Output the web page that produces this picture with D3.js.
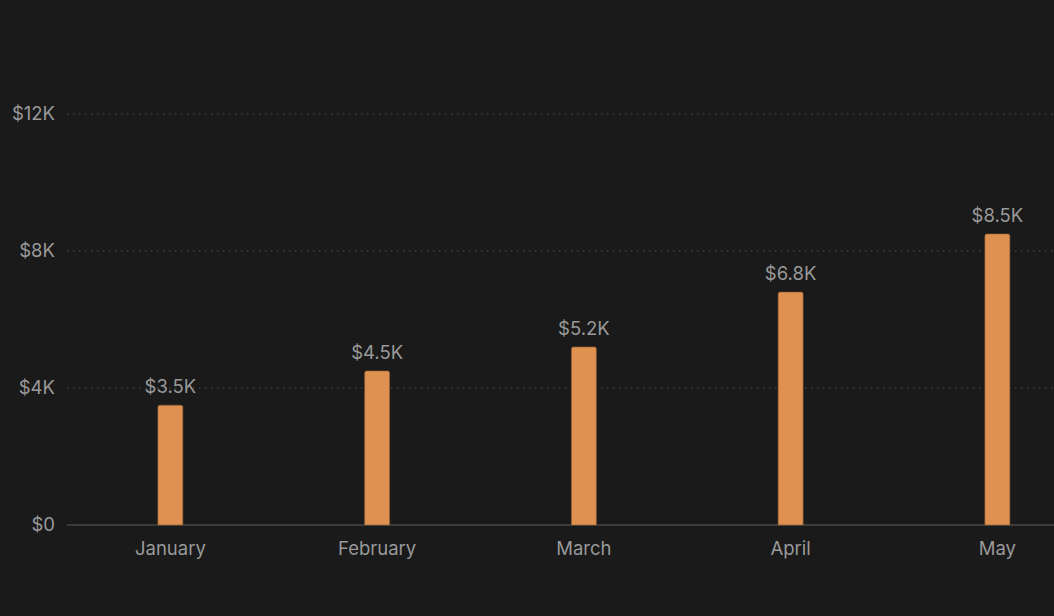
<!DOCTYPE html>
<html><head><meta charset="utf-8">
<script src="https://cdn.jsdelivr.net/npm/d3@7"></script>
<style>
html,body{margin:0;padding:0;background:#1a1a1a;overflow:hidden;}
svg{display:block;}
</style></head>
<body>
<svg id="chart" width="1054" height="616"></svg>
<script>
const months = ["January","February","March","April","May"];
const revenue = [3500, 4500, 5200, 6800, 8500];
const valueLabels = ["$3.5K","$4.5K","$5.2K","$6.8K","$8.5K"];
const yTicks = [0, 4000, 8000, 12000];
const yTickLabels = ["$0","$4K","$8K","$12K"];

(function(){
const svg = d3.select("#chart");
const W = 1054;
const mLeft = 67, mBottom = 525, mTop = 114;
const bandStep = 206.75;
const x = d3.scaleBand().domain(months).range([mLeft, mLeft + bandStep * months.length]).paddingInner(0).paddingOuter(0);
const y = d3.scaleLinear().domain([0, 12000]).range([mBottom, mTop]);

const font = "Inter, 'Liberation Sans', Arial, sans-serif";
const textColor = "#999999";
const fs = 18.5;

// gridlines
svg.append("g").selectAll("line").data(yTicks.filter(d => d > 0)).join("line")
  .attr("x1", mLeft).attr("x2", W)
  .attr("y1", d => y(d)).attr("y2", d => y(d))
  .attr("stroke", "#505050").attr("stroke-width", 1.2).attr("stroke-dasharray", "1.5,4.5");

// y axis
const yAxis = d3.axisLeft(y).tickValues(yTicks).tickFormat((d,i) => yTickLabels[i]).tickSize(0).tickPadding(12);
const gy = svg.append("g").attr("transform", `translate(${mLeft},0)`).call(yAxis);
gy.select(".domain").remove();
gy.selectAll("text").attr("fill", textColor).attr("font-size", fs).attr("font-family", font);

// x axis
const xAxis = d3.axisBottom(x).tickSize(0).tickPadding(17);
const gx = svg.append("g").attr("transform", `translate(0,${mBottom})`).call(xAxis);
gx.select(".domain").attr("stroke", "#474747").attr("stroke-width", 1.5).attr("d", `M${mLeft},0H${W}`);
gx.selectAll("text").attr("fill", textColor).attr("font-size", fs).attr("font-family", font);

// bars
const bw = 25;
svg.append("g").selectAll("path").data(months).join("path")
  .attr("d", (m, i) => {
    const cx = x(m) + x.bandwidth() / 2;
    const x0 = cx - bw / 2, x1 = cx + bw / 2;
    const yt = y(revenue[i]), yb = y(0);
    const r = 2;
    return `M${x0},${yb}V${yt + r}Q${x0},${yt} ${x0 + r},${yt}H${x1 - r}Q${x1},${yt} ${x1},${yt + r}V${yb}Z`;
  })
  .attr("fill", "#de9150").attr("stroke", "#8a5a30").attr("stroke-width", 0.6);

// value labels
svg.append("g").selectAll("text").data(months).join("text")
  .attr("x", m => x(m) + x.bandwidth() / 2)
  .attr("y", (m, i) => y(revenue[i]) - 12)
  .attr("text-anchor", "middle")
  .attr("fill", textColor).attr("font-size", fs).attr("font-family", font)
  .text((m, i) => valueLabels[i]);
})();
</script>
</body></html>
